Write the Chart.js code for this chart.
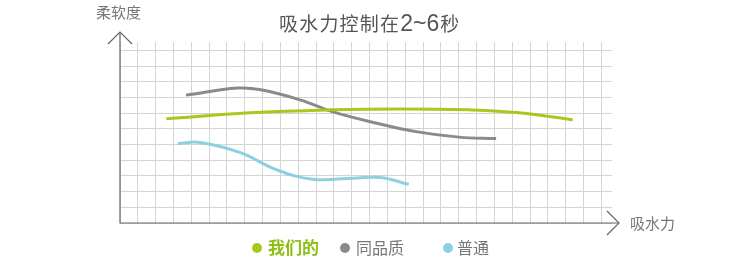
<!DOCTYPE html>
<html>
<head>
<meta charset="utf-8">
<script src="https://cdn.jsdelivr.net/npm/chart.js@4.4.0/dist/chart.umd.min.js"></script>
<style>
  html, body { margin: 0; padding: 0; background: #fff; }
  #wrap { width: 750px; height: 259px; position: relative; }
</style>
</head>
<body>
<div id="wrap"><canvas id="chart" width="750" height="259"></canvas></div>
<script>
// values (grid units)
const ourX = [2.6, 7.3, 11.8, 15.7, 19.6, 22.4, 25.4];
const ourY = [6.65, 7.03, 7.22, 7.28, 7.22, 7.04, 6.58];

const sameX = [3.7, 6.6, 7.9, 10.1, 11.9, 14.4, 16.6, 19.0, 21.1];
const sameY = [8.16, 8.61, 8.50, 7.86, 7.11, 6.37, 5.83, 5.48, 5.39];

const plainX = [3.25, 4.5, 6.75, 8.8, 10.8, 13.1, 14.6, 16.2];
const plainY = [5.07, 5.14, 4.49, 3.39, 2.79, 2.86, 2.90, 2.47];

const seriesNames = ['我们的', '同品质', '普通'];
const colors = ['#a6c91e', '#8a8a8a', '#8fcfe2'];

const toPoints = (xs, ys) => xs.map((x, i) => ({ x: x, y: ys[i] }));

const cjk = "'Noto Sans CJK SC', 'Noto Sans', sans-serif";

// axis arrows, axis labels, title and legend
const decor = {
    id: 'decor',
    afterDraw(chart) {
        const ctx = chart.ctx;
        const a = chart.chartArea;
        ctx.save();
        ctx.strokeStyle = '#666';
        ctx.lineWidth = 1.2;
        ctx.beginPath();
        ctx.moveTo(a.left, 32);
        ctx.lineTo(a.left, a.bottom);
        ctx.lineTo(619, a.bottom);
        ctx.stroke();
        ctx.beginPath();
        ctx.moveTo(108, 44); ctx.lineTo(a.left, 32); ctx.lineTo(132, 44);
        ctx.moveTo(607, 211); ctx.lineTo(619, a.bottom); ctx.lineTo(607, 235);
        ctx.stroke();

        ctx.fillStyle = '#777';
        ctx.textBaseline = 'middle';
        ctx.font = '15px ' + cjk;
        ctx.fillText('柔软度', 96, 12);
        ctx.fillText('吸水力', 630, 223);

        // title
        ctx.fillStyle = '#555';
        ctx.font = '19px ' + cjk;
        let x = 279;
        const t1 = '吸水力控制在';
        for (const ch of t1) { ctx.fillText(ch, x, 24); x += 20.2; }
        ctx.font = '23px "Liberation Sans", sans-serif';
        ctx.fillText('2~6', x, 25);
        x += ctx.measureText('2~6').width + 1;
        ctx.font = '19px ' + cjk;
        ctx.fillText('秒', x, 24);

        // legend
        const leg = [
            { cx: 257, tx: 268, font: 'bold 17px ' + cjk, tc: '#8dbf14' },
            { cx: 345, tx: 356, font: '16px ' + cjk, tc: '#777' },
            { cx: 448, tx: 457, font: '16px ' + cjk, tc: '#777' }
        ];
        leg.forEach((l, i) => {
            ctx.fillStyle = colors[i];
            ctx.beginPath();
            ctx.arc(l.cx, 248, 5, 0, Math.PI * 2);
            ctx.fill();
            ctx.fillStyle = l.tc;
            ctx.font = l.font;
            ctx.fillText(seriesNames[i], l.tx, 248);
        });
        ctx.restore();
    }
};

const intTicks = (scale) => {
    const ticks = [];
    for (let v = 0; v <= Math.floor(scale.max); v++) ticks.push({ value: v });
    scale.ticks = ticks;
};

new Chart(document.getElementById('chart'), {
    type: 'line',
    data: {
        datasets: [
            { label: seriesNames[0], data: toPoints(ourX, ourY), borderColor: colors[0] },
            { label: seriesNames[1], data: toPoints(sameX, sameY), borderColor: colors[1] },
            { label: seriesNames[2], data: toPoints(plainX, plainY), borderColor: colors[2] }
        ]
    },
    options: {
        responsive: false,
        animation: false,
        layout: { padding: { left: 120, right: 138, top: 42, bottom: 36 } },
        elements: {
            line: { borderWidth: 3, tension: 0.4, borderCapStyle: 'butt' },
            point: { radius: 0 }
        },
        plugins: { legend: { display: false }, tooltip: { enabled: false }, title: { display: false } },
        scales: {
            x: {
                type: 'linear', min: 0, max: 27.6,
                afterBuildTicks: intTicks,
                ticks: { display: false },
                border: { display: false },
                grid: { color: '#d4d4d4', lineWidth: 1, drawTicks: false }
            },
            y: {
                type: 'linear', min: 0, max: 11.55,
                afterBuildTicks: intTicks,
                ticks: { display: false },
                border: { display: false },
                grid: { color: '#d4d4d4', lineWidth: 1, drawTicks: false }
            }
        }
    },
    plugins: [decor]
});
</script>
</body>
</html>
